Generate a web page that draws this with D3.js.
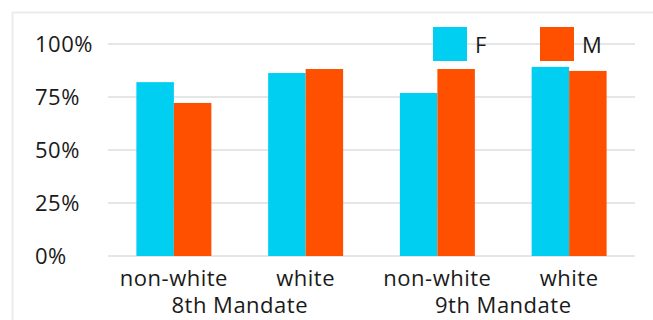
<!DOCTYPE html>
<html><head><meta charset="utf-8">
<script src="https://cdn.jsdelivr.net/npm/d3@7"></script>
<style>html,body{margin:0;padding:0;background:#fff;overflow:hidden}</style>
</head><body>
<svg id="chart" width="653" height="320"></svg>
<script>
const categories = ["non-white", "white", "non-white", "white"];
const groups = ["8th Mandate", "9th Mandate"];
const seriesNames = ["F", "M"];
const valuesF = [82, 86.3, 76.9, 89.2];
const valuesM = [72.2, 88.2, 88.2, 87.3];
const tickValues = [0, 25, 50, 75, 100];
const colors = ["#00CFF2", "#FF5000"];

const svg = d3.select("#chart");
const font = "'Open Sans', sans-serif";
const fs = 22;
const ls = "0.5px";

// frame
svg.append("rect").attr("x", 12.5).attr("y", 12.5).attr("width", 700).attr("height", 400)
  .attr("fill", "none").attr("stroke", "#ebebeb").attr("stroke-width", 2);

const x0 = d3.scaleBand().domain(d3.range(categories.length)).range([108, 635]).paddingInner(0).paddingOuter(0);
const x1 = d3.scaleBand().domain(seriesNames).range([0, x0.bandwidth()]).paddingInner(0).paddingOuter(0.757);
const y = d3.scaleLinear().domain([0, 100]).range([256, 44]);

// gridlines
svg.append("g").selectAll("line").data(tickValues).join("line")
  .attr("x1", 108).attr("x2", 635)
  .attr("y1", d => y(d)).attr("y2", d => y(d))
  .attr("stroke", "#e6e6e6").attr("stroke-width", 2);

function styleText(sel) {
  return sel.attr("font-family", font).attr("font-size", fs).attr("fill", "#1a1a1a")
    .attr("letter-spacing", ls);
}

// y labels
styleText(svg.append("g").selectAll("text").data(tickValues).join("text")
  .attr("x", 35).attr("y", d => y(d)).attr("dy", "0.35em"))
  .text(d => d + "%");

// bars
const data = categories.map((c, i) => ({i, vals: [valuesF[i], valuesM[i]]}));
const g = svg.append("g").selectAll("g").data(data).join("g")
  .attr("transform", d => `translate(${x0(d.i)},0)`);
g.selectAll("rect").data(d => d.vals.map((v, k) => ({k, v}))).join("rect")
  .attr("x", d => x1(seriesNames[d.k]))
  .attr("width", x1.bandwidth())
  .attr("y", d => y(d.v))
  .attr("height", d => y(0) - y(d.v))
  .attr("fill", d => colors[d.k]);

// category labels
styleText(svg.append("g").selectAll("text").data(categories).join("text")
  .attr("x", (d, i) => x0(i) + x0.bandwidth() / 2).attr("y", 286)
  .attr("text-anchor", "middle"))
  .text(d => d);

// group labels
styleText(svg.append("g").selectAll("text").data(groups).join("text")
  .attr("x", (d, j) => (x0(j * 2) + x0(j * 2 + 1) + x0.bandwidth()) / 2).attr("y", 313)
  .attr("text-anchor", "middle"))
  .text(d => d);

// legend
const legX = [433, 540];
const lg = svg.append("g").selectAll("g").data(seriesNames).join("g")
  .attr("transform", (d, i) => `translate(${legX[i]},27)`);
lg.append("rect").attr("width", 34).attr("height", 34).attr("fill", (d, i) => colors[i]);
styleText(lg.append("text").attr("x", 42).attr("y", 18).attr("dy", "0.36em"))
  .text(d => d);
</script>
</body></html>
